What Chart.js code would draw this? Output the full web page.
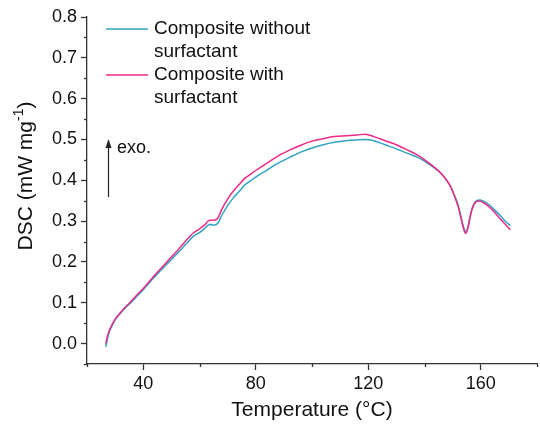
<!doctype html>
<html>
<head>
    <meta charset="UTF-8">
    <title>DSC chart</title>
    <style>
        body { margin: 0; background: #fff; }
        #wrap { width: 540px; height: 428px; }
    </style>
</head>
<body>
<div id="wrap"><canvas id="myCanvas"></canvas></div>
<script src="https://cdn.jsdelivr.net/npm/chart.js@4.4.1/dist/chart.umd.min.js"></script>
<script>
    // temperature (°C) and DSC (mW mg-1)
    var tempWithout = [26.7, 27.2, 28, 29, 30, 32, 34, 36, 38, 40, 42, 44, 46, 48, 50, 52, 54, 56, 58, 60, 62, 63.5, 65, 66.5, 68, 70, 72, 74, 76, 78, 80, 84, 88, 92, 96, 100, 104, 108, 112, 116, 119, 122, 126, 130, 134, 138, 142, 145, 147, 149, 150.5, 152, 153, 154, 154.7, 155.4, 156.2, 157, 158, 159.5, 161, 163, 165, 167, 169, 170.5];
    var dscWithout = [-0.008, 0.01, 0.03, 0.045, 0.058, 0.075, 0.09, 0.103, 0.118, 0.132, 0.148, 0.163, 0.178, 0.192, 0.206, 0.22, 0.235, 0.25, 0.264, 0.272, 0.283, 0.292, 0.29, 0.295, 0.315, 0.338, 0.357, 0.372, 0.388, 0.398, 0.408, 0.425, 0.442, 0.456, 0.469, 0.479, 0.487, 0.493, 0.497, 0.499, 0.5, 0.497, 0.487, 0.477, 0.466, 0.455, 0.438, 0.422, 0.408, 0.388, 0.366, 0.338, 0.31, 0.283, 0.274, 0.285, 0.312, 0.333, 0.347, 0.352, 0.349, 0.34, 0.327, 0.313, 0.298, 0.289];
    var tempWith = [26.7, 27.2, 28, 29, 30, 32, 34, 36, 38, 40, 42, 44, 46, 48, 50, 52, 54, 56, 58, 60, 62, 63.5, 65, 66.5, 68, 70, 72, 74, 76, 78, 80, 84, 88, 92, 96, 100, 104, 108, 112, 116, 119, 122, 126, 130, 134, 138, 142, 145, 147, 149, 150.5, 152, 153, 154, 154.7, 155.4, 156.2, 157, 158, 159.5, 161, 163, 165, 167, 169, 170.5];
    var dscWith = [0.0, 0.017, 0.033, 0.048, 0.06, 0.077, 0.092, 0.106, 0.121, 0.135, 0.151, 0.167, 0.182, 0.197, 0.212, 0.227, 0.243, 0.258, 0.272, 0.281, 0.292, 0.302, 0.302, 0.307, 0.33, 0.354, 0.373, 0.389, 0.404, 0.414, 0.424, 0.442, 0.46, 0.474, 0.486, 0.496, 0.502, 0.507, 0.509, 0.511, 0.513, 0.507, 0.497, 0.487, 0.474, 0.46, 0.44, 0.423, 0.408, 0.388, 0.364, 0.335, 0.306, 0.279, 0.27, 0.282, 0.309, 0.331, 0.345, 0.349, 0.345, 0.335, 0.321, 0.305, 0.29, 0.279];
    var seriesNames = [['Composite without', 'surfactant'], ['Composite with', 'surfactant']];
    var seriesColors = ['#2fa3c2', '#ee2a85'];

    var FONT = 'Liberation Sans, Arial, sans-serif';
    var AXIS = '#333333';

    function pts(xs, ys) {
        return xs.map(function (x, i) { return {x: x, y: ys[i]}; });
    }

    // short minor ticks, legend, exo. arrow and y title with superscript
    var extras = {
        id: 'extras',
        afterDraw: function (chart) {
            var c = chart.ctx;
            var xs = chart.scales.x, ys = chart.scales.y;
            c.save();
            c.strokeStyle = AXIS;
            c.lineWidth = 1.3;
            xs.ticks.forEach(function (t) {
                if (t.value % 40 !== 0) {
                    var px = Math.round(xs.getPixelForValue(t.value)) + 0.5;
                    c.beginPath(); c.moveTo(px, xs.top); c.lineTo(px, xs.top + 3); c.stroke();
                }
            });
            ys.ticks.forEach(function (t) {
                if (Math.round(t.value * 100) % 10 !== 0) {
                    var py = Math.round(ys.getPixelForValue(t.value)) + 0.5;
                    c.beginPath(); c.moveTo(ys.right, py); c.lineTo(ys.right - 3, py); c.stroke();
                }
            });

            // legend
            c.font = '19px ' + FONT;
            c.fillStyle = '#111';
            c.textBaseline = 'middle';
            c.textAlign = 'left';
            var rowY = [29, 75];
            seriesNames.forEach(function (lines, i) {
                c.strokeStyle = seriesColors[i];
                c.lineWidth = 1.6;
                c.beginPath(); c.moveTo(106, rowY[i]); c.lineTo(148, rowY[i]); c.stroke();
                lines.forEach(function (s, k) { c.fillText(s, 154, rowY[i] + k * 23); });
            });

            // exo. arrow
            c.strokeStyle = '#222';
            c.fillStyle = '#222';
            c.lineWidth = 1.2;
            c.beginPath(); c.moveTo(108.5, 197); c.lineTo(108.5, 146); c.stroke();
            c.beginPath(); c.moveTo(108.5, 139); c.lineTo(105.5, 148); c.lineTo(111.5, 148); c.closePath(); c.fill();
            c.font = '18px ' + FONT;
            c.fillStyle = '#111';
            c.fillText('exo.', 117, 148);

            // y title
            c.translate(32, 176);
            c.rotate(-Math.PI / 2);
            c.textBaseline = 'alphabetic';
            var a = 'DSC (mW mg', sup = '-1', b = ')';
            c.font = '21px ' + FONT;
            var wa = c.measureText(a).width, wb = c.measureText(b).width;
            c.font = '14px ' + FONT;
            var ws = c.measureText(sup).width;
            var x0 = -(wa + ws + wb) / 2;
            c.font = '21px ' + FONT;
            c.fillText(a, x0, 0);
            c.font = '14px ' + FONT;
            c.fillText(sup, x0 + wa, -9);
            c.font = '21px ' + FONT;
            c.fillText(b, x0 + wa + ws, 0);
            c.restore();
        }
    };

    var ctx = document.getElementById('myCanvas').getContext('2d');
    var myChart = new Chart(ctx, {
        type: 'line',
        data: {
            datasets: [{
                label: seriesNames[0].join(' '),
                data: pts(tempWithout, dscWithout),
                borderColor: seriesColors[0],
                borderWidth: 1.5,
                pointRadius: 0,
                cubicInterpolationMode: 'monotone',
                order: 1
            }, {
                label: seriesNames[1].join(' '),
                data: pts(tempWith, dscWith),
                borderColor: seriesColors[1],
                borderWidth: 1.5,
                pointRadius: 0,
                cubicInterpolationMode: 'monotone',
                order: 0
            }]
        },
        options: {
            responsive: true,
            maintainAspectRatio: false,
            animation: false,
            layout: {padding: {top: 17, right: 0, bottom: 0, left: 0}},
            plugins: {legend: {display: false}, tooltip: {enabled: false}},
            scales: {
                x: {
                    type: 'linear',
                    min: 20,
                    max: 180,
                    afterFit: function (s) { s.height = 64; },
                    ticks: {
                        stepSize: 20,
                        autoSkip: false,
                        maxRotation: 0,
                        padding: 3,
                        color: '#111',
                        font: {family: FONT, size: 18},
                        callback: function (v) { return (v % 40 === 0 && v < 180) ? String(v) : ''; }
                    },
                    grid: {
                        drawOnChartArea: false,
                        tickLength: 6,
                        tickWidth: 1.3,
                        tickColor: function (c) { return c.tick && c.tick.value % 40 === 0 ? AXIS : 'rgba(0,0,0,0)'; }
                    },
                    border: {color: AXIS, width: 1.3},
                    title: {
                        display: true,
                        text: 'Temperature (°C)',
                        color: '#111',
                        font: {family: FONT, size: 21},
                        padding: {top: 0, bottom: 5}
                    }
                },
                y: {
                    min: -0.05,
                    max: 0.8,
                    afterFit: function (s) { s.width = 87; },
                    ticks: {
                        stepSize: 0.05,
                        autoSkip: false,
                        padding: 4,
                        color: '#111',
                        font: {family: FONT, size: 18},
                        callback: function (v) { return Math.round(v * 100) % 10 === 0 ? v.toFixed(1) : ''; }
                    },
                    grid: {
                        drawOnChartArea: false,
                        tickLength: 6,
                        tickWidth: 1.3,
                        tickColor: function (c) { return c.tick && Math.round(c.tick.value * 100) % 10 === 0 ? AXIS : 'rgba(0,0,0,0)'; }
                    },
                    border: {color: AXIS, width: 1.3},
                    title: {display: false}
                }
            }
        },
        plugins: [extras]
    });
</script>
</body>
</html>
